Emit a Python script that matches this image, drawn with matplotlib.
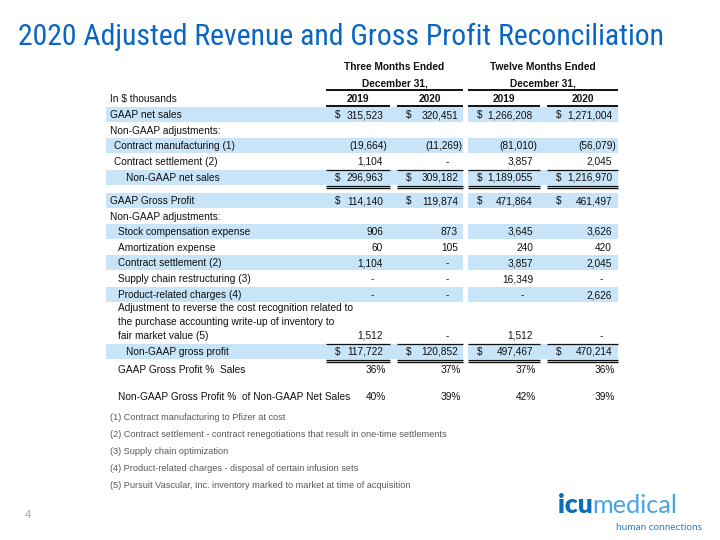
import matplotlib.pyplot as plt
from matplotlib.patches import Rectangle
from matplotlib import font_manager

plt.rcParams['font.family'] = ['Liberation Sans', 'DejaVu Sans']

# table data (in $ thousands), 0 shown as "-"
row_labels = [
    "GAAP net sales",
    "Non-GAAP adjustments:",
    "Contract manufacturing (1)",
    "Contract settlement (2)",
    "Non-GAAP net sales",
    "GAAP Gross Profit",
    "Non-GAAP adjustments:",
    "Stock compensation expense",
    "Amortization expense",
    "Contract settlement (2)",
    "Supply chain restructuring (3)",
    "Product-related charges (4)",
    "Adjustment to reverse the cost recognition related to\n"
    "the purchase accounting write-up of inventory to\nfair market value (5)",
    "Non-GAAP gross profit",
]
q4_2019 = [315523, None, -19664, 1104, 296963, 114140, None, 906, 60, 1104, 0, 0, 1512, 117722]
q4_2020 = [320451, None, -11269, 0, 309182, 119874, None, 873, 105, 0, 0, 0, 0, 120852]
fy_2019 = [1266208, None, -81010, 3857, 1189055, 471864, None, 3645, 240, 3857, 16349, 0, 1512, 497467]
fy_2020 = [1271004, None, -56079, 2045, 1216970, 461497, None, 3626, 420, 2045, 0, 2626, 0, 470214]

pct_labels = ["GAAP Gross Profit %  Sales", "Non-GAAP Gross Profit %  of Non-GAAP Net Sales"]
gaap_pct = [36, 37, 37, 36]
non_gaap_pct = [40, 39, 42, 39]

period_labels = ["Three Months Ended", "Twelve Months Ended"]
year_labels = ["2019", "2020", "2019", "2020"]

footnotes = [
    "(1) Contract manufacturing to Pfizer at cost",
    "(2) Contract settlement - contract renegotiations that result in one-time settlements",
    "(3) Supply chain optimization",
    "(4) Product-related charges - disposal of certain infusion sets",
    "(5) Pursuit Vascular, Inc. inventory marked to market at time of acquisition",
]

# layout (pixels)
row_y = [115, 131, 146, 162, 178, 201, 217, 232, 248, 263, 279, 295, 336, 352]
row_x = [110, 110, 114, 114, 126, 110, 110, 118, 118, 118, 118, 118, 118, 126]
banded = {0, 2, 4, 5, 7, 9, 11, 13}
dollar_rows = {0, 4, 5, 13}
total_rows = {4, 13}
pct_y = [370, 397]
segs = [(326, 390), (397, 463), (468, 540), (547, 618)]
col_right = [383, 458, 533, 612]

BAND = '#c8e4f8'
INK = '#111111'
FS = 7.3

installed = {f.name for f in font_manager.fontManager.ttflist}
title_font = 'Liberation Sans'
for name in ['Liberation Sans Narrow', 'Roboto Condensed']:
    if name in installed:
        title_font = name
        break
logo_font = 'Lato' if 'Lato' in installed else 'DejaVu Sans'

fig = plt.figure(figsize=(7.2, 5.4), dpi=100)
ax = fig.add_axes([0, 0, 1, 1])
ax.set_xlim(0, 720)
ax.set_ylim(540, 0)
ax.axis('off')

title = ax.text(18, 37, "2020 Adjusted Revenue and Gross Profit Reconciliation",
                family=title_font, fontsize=20, color='#0a66c2', va='center', ha='left')
# fit the title to the slide width (18 -> 664 px)
renderer = fig.canvas.get_renderer()
w = title.get_window_extent(renderer).width
title.set_fontsize(min(23, 20 * 646 / w))


def fmt(v):
    if v == 0:
        return "-"
    if v < 0:
        return "({:,})".format(-v)
    return "{:,}".format(v)


def hline(x0, x1, y, lw=0.9):
    ax.plot([x0, x1], [y, y], color=INK, lw=lw, solid_capstyle='butt')


# header
for i, lab in enumerate(period_labels):
    left, right = segs[2 * i][0], segs[2 * i + 1][1]
    cx = (left + right) / 2
    ax.text(cx, 67, lab, ha='center', va='center', fontsize=FS, weight='bold', color=INK)
    ax.text(cx, 83, "December 31,", ha='center', va='center', fontsize=FS, weight='bold', color=INK)
    hline(left, right, 90, lw=1.4)
ax.text(110, 99, "In $ thousands", ha='left', va='center', fontsize=FS, color=INK)
for (a, b), yl in zip(segs, year_labels):
    ax.text((a + b) / 2, 99, yl, ha='center', va='center', fontsize=FS, weight='bold', color=INK)
    hline(a, b, 105.5, lw=1.4)

# bands
for i, y in enumerate(row_y):
    if i in banded:
        ax.add_patch(Rectangle((106, y - 8), 357, 15, color=BAND, lw=0, zorder=0))
        ax.add_patch(Rectangle((468, y - 8), 150, 15, color=BAND, lw=0, zorder=0))

# rows
columns = [q4_2019, q4_2020, fy_2019, fy_2020]
for i, (lab, y) in enumerate(zip(row_labels, row_y)):
    lines = lab.split('\n')
    for k, ln in enumerate(lines):
        ax.text(row_x[i], y - 14 * (len(lines) - 1 - k), ln, ha='left', va='center',
                fontsize=FS, color=INK)
    for c, col in enumerate(columns):
        v = col[i]
        if v is None:
            continue
        r = col_right[c]
        if v == 0:
            ax.text(r - 9, y, "-", ha='right', va='center', fontsize=FS, color=INK)
        elif v < 0:
            ax.text(r + 4, y, fmt(v), ha='right', va='center', fontsize=FS, color=INK)
        else:
            ax.text(r, y, fmt(v), ha='right', va='center', fontsize=FS, color=INK)
        if i in dollar_rows:
            ax.text(segs[c][0] + 9, y, "$", ha='left', va='center', fontsize=FS, color=INK)
    if i in total_rows:
        for a, b in segs:
            hline(a, b, y - 8.5)
            hline(a, b, y + 8, lw=1.0)
            hline(a, b, y + 10, lw=1.0)

# percentage rows
for lab, y, vals in zip(pct_labels, pct_y, [gaap_pct, non_gaap_pct]):
    ax.text(118, y, lab, ha='left', va='center', fontsize=FS, color=INK)
    for r, v in zip(col_right, vals):
        ax.text(r + 3, y, "{}%".format(v), ha='right', va='center', fontsize=FS, color=INK)

# footnotes
for k, note in enumerate(footnotes):
    ax.text(110, 418 + 16.8 * k, note, ha='left', va='center', fontsize=6.6, color='#595959')

ax.text(25, 515, "4", ha='left', va='center', fontsize=8, color='#a6a6a6')

# logo text
icu = ax.text(558, 513, "icu", family=logo_font, weight='heavy', fontsize=19,
              color='#0a6eb8', ha='left', va='baseline')
ax.annotate("medical", xy=(1, 0), xycoords=icu, family=logo_font, weight='normal',
            fontsize=18.2, color='#4aa3e3', ha='left', va='bottom')
ax.text(702, 527, "human connections", family=logo_font, fontsize=7.2,
        color='#2b7fc3', ha='right', va='center')

fig.savefig('out.png', dpi=100)
